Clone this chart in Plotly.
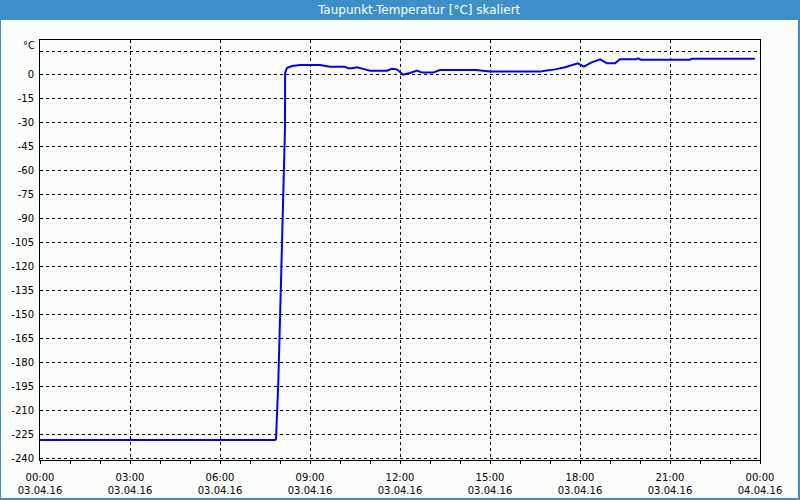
import plotly.graph_objects as go

# ---- data (hours since 03.04.16 00:00, dew point in °C) ----
hours = [0, 7.83, 7.867, 7.943, 8.033, 8.11, 8.167, 8.17, 8.23, 8.4,
         8.67, 9.33, 9.67, 10.17, 10.27, 10.4, 10.57, 10.77, 11.0, 11.57,
         11.73, 11.9, 12.1, 12.33, 12.57, 12.73, 13.1, 13.33, 14.53, 15.0,
         16.67, 16.83, 17.17, 17.5, 17.73, 17.93, 18.13, 18.37, 18.67, 18.9,
         19.17, 19.33, 19.87, 19.93, 20.03, 21.67, 21.73, 23.83]
values = [-228.6, -228.6, -228.1, -192.5, -130.0, -65.6, -32.5, 1.2, 4.4, 5.6,
          6.25, 6.25, 5.2, 5.2, 4.2, 4.2, 4.8, 3.8, 2.7, 2.7,
          3.9, 3.5, 0.2, 1.2, 2.7, 1.5, 1.5, 3.1, 3.1, 2.1,
          2.1, 2.7, 3.5, 4.8, 6.25, 7.3, 5.2, 7.7, 9.8, 7.3,
          7.3, 9.8, 9.8, 10.4, 9.6, 9.6, 10.2, 10.2]

x_tick_vals = [0, 3, 6, 9, 12, 15, 18, 21, 24]
x_tick_text = ["00:00<br>03.04.16", "03:00<br>03.04.16", "06:00<br>03.04.16",
               "09:00<br>03.04.16", "12:00<br>03.04.16", "15:00<br>03.04.16",
               "18:00<br>03.04.16", "21:00<br>03.04.16", "00:00<br>04.04.16"]
y_tick_vals = [15, 0, -15, -30, -45, -60, -75, -90, -105, -120, -135, -150,
               -165, -180, -195, -210, -225, -240]
y_tick_text = [""] + [str(v) for v in y_tick_vals[1:]]

title_text = "Taupunkt-Temperatur [°C] skaliert"
unit_text = "°C"

W, H = 800, 500
ML, MR, MT, MB = 40, 40, 40, 40
PW, PH = W - ML - MR, H - MT - MB

def px(x):
    return (x - ML) / PW

def py(y):
    return (H - MB - y) / PH

BLUE_FRAME = "#3C8FC7"
BG = "#FAFDFA"
FONT = "DejaVu Sans"

fig = go.Figure()
fig.add_trace(go.Scatter(x=hours, y=values, mode="lines",
                         line=dict(color="#0000FF", width=2),
                         hoverinfo="skip", showlegend=False))

shapes = [
    dict(type="rect", xref="paper", yref="paper", x0=px(0), x1=px(W), y0=py(20), y1=py(0),
         fillcolor=BLUE_FRAME, line=dict(width=0), layer="below"),
    dict(type="rect", xref="paper", yref="paper", x0=px(0), x1=px(1), y0=py(H), y1=py(20),
         fillcolor=BLUE_FRAME, line=dict(width=0), layer="below"),
    dict(type="rect", xref="paper", yref="paper", x0=px(798), x1=px(W), y0=py(H), y1=py(20),
         fillcolor=BLUE_FRAME, line=dict(width=0), layer="below"),
    dict(type="rect", xref="paper", yref="paper", x0=px(0), x1=px(W), y0=py(H), y1=py(498),
         fillcolor=BLUE_FRAME, line=dict(width=0), layer="below"),
]

annotations = [
    dict(text=title_text, xref="paper", yref="paper", x=px(419), y=py(10),
         xanchor="center", yanchor="middle", showarrow=False,
         font=dict(family=FONT, size=12, color="white")),
    dict(text=unit_text, xref="paper", yref="paper", x=px(37), y=py(46),
         xanchor="right", yanchor="middle", showarrow=False,
         font=dict(family=FONT, size=10, color="black")),
]

fig.update_layout(
    width=W, height=H,
    margin=dict(l=ML, r=MR, t=MT, b=MB, pad=0, autoexpand=False),
    paper_bgcolor=BG, plot_bgcolor=BG,
    shapes=shapes, annotations=annotations,
    font=dict(family=FONT, size=10, color="black"),
    showlegend=False,
)

fig.update_xaxes(
    range=[0, 24], tickvals=x_tick_vals, ticktext=x_tick_text,
    showgrid=True, gridcolor="black", gridwidth=1, griddash="3px,3px",
    showline=True, linecolor="black", linewidth=1, mirror=True,
    ticks="outside", ticklen=3, tickcolor="black", tickwidth=1,
    minor=dict(dtick=1, tick0=0, ticks="outside", ticklen=3, tickcolor="black", showgrid=False),
    zeroline=False, fixedrange=True, ticklabelstandoff=5,
    tickfont=dict(family=FONT, size=10, color="black"),
)
fig.update_yaxes(
    range=[-241.2, 21.9], tickvals=y_tick_vals, ticktext=y_tick_text,
    showgrid=True, gridcolor="black", gridwidth=1, griddash="3px,3px",
    showline=True, linecolor="black", linewidth=1, mirror=True,
    ticks="", ticklabelstandoff=3,
    zeroline=False, fixedrange=True,
    tickfont=dict(family=FONT, size=10, color="black"),
)

fig.write_html("out.html", config=dict(displayModeBar=False),
               post_script="document.body.style.margin='0';document.body.style.overflow='hidden';")
